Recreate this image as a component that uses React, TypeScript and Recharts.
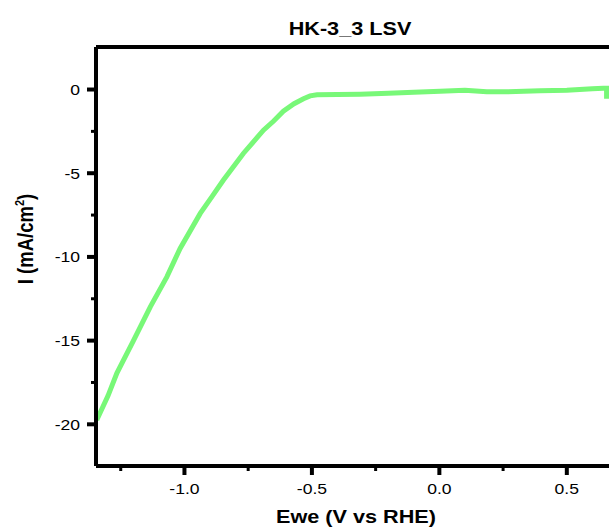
import { LineChart, Line, XAxis, YAxis } from "recharts";

// LSV sweep: potential (V vs RHE) and current density (mA/cm²)
const potential = [
  -1.344, -1.3, -1.265, -1.2, -1.134, -1.069, -1.017, -0.938, -0.89, -0.847,
  -0.769, -0.69, -0.65, -0.612, -0.57, -0.533, -0.507, -0.48, -0.4, -0.311,
  -0.2, -0.1, 0.003, 0.1, 0.186, 0.25, 0.3, 0.395, 0.5, 0.6, 0.643, 0.656, 0.656,
];
const current = [
  -19.74, -18.3, -16.94, -15.0, -12.98, -11.19, -9.49, -7.4, -6.35, -5.41,
  -3.82, -2.43, -1.88, -1.3, -0.85, -0.55, -0.38, -0.31, -0.3, -0.28,
  -0.22, -0.16, -0.1, -0.05, -0.14, -0.14, -0.12, -0.08, -0.04, 0.04, 0.08, 0.08, -0.55,
];

const xMajor = [-1.0, -0.5, 0.0, 0.5];
const xMinor = [-1.25, -0.75, -0.25, 0.25];
const yMajor = [-20, -15, -10, -5, 0];
const yMinor = [-17.5, -12.5, -7.5, -2.5];

const xDomain = [-1.347, 0.68];
const yDomain = [-22.49, 2.54];

const data = potential.map((v, i) => ({ v, i: current[i] }));

const FONT = "'Liberation Sans', Arial, sans-serif";
const STRETCH = 1.17;

const XTick = (props: any) => {
  const { x, y, payload } = props;
  const axisY = y - 8;
  const major = xMajor.includes(payload.value);
  return (
    <g>
      <line
        x1={x}
        x2={x}
        y1={axisY}
        y2={axisY + (major ? 9 : 5)}
        stroke="#000"
        strokeWidth={major ? 4 : 3}
      />
      {major && (
        <text
          transform={`translate(${x},${axisY + 28}) scale(${STRETCH},1)`}
          textAnchor="middle"
          fontSize={15}
          fontFamily={FONT}
          fill="#000"
          stroke="none"
        >
          {payload.value.toFixed(1)}
        </text>
      )}
    </g>
  );
};

const YTick = (props: any) => {
  const { x, y, payload } = props;
  const axisX = x + 8;
  const major = yMajor.includes(payload.value);
  return (
    <g>
      <line
        x1={axisX}
        x2={axisX - (major ? 9 : 5)}
        y1={y}
        y2={y}
        stroke="#000"
        strokeWidth={major ? 4 : 3}
      />
      {major && (
        <text
          transform={`translate(${axisX - 16},${y + 5.4}) scale(${STRETCH},1)`}
          textAnchor="end"
          fontSize={15}
          fontFamily={FONT}
          fill="#000"
          stroke="none"
        >
          {payload.value}
        </text>
      )}
    </g>
  );
};

const label = (left: number, top: number, extra: string = "") => ({
  position: "absolute" as const,
  left,
  top,
  transform: `translate(-50%,-50%) ${extra}`,
  fontFamily: FONT,
  fontWeight: "bold" as const,
  fontSize: 18.5,
  lineHeight: 1,
  whiteSpace: "nowrap" as const,
  color: "#000",
});

export default function App() {
  return (
    <div
      style={{
        position: "absolute",
        left: 0,
        top: 0,
        width: 609,
        height: 532,
        overflow: "hidden",
        background: "#fff",
      }}
    >
      <LineChart
        width={640}
        height={532}
        data={data}
        margin={{ top: 46, right: 27.3, left: 0, bottom: 0 }}
      >
        <XAxis
          dataKey="v"
          type="number"
          domain={xDomain}
          ticks={[...xMajor, ...xMinor].sort((a, b) => a - b)}
          interval={0}
          height={66}
          tickSize={6}
          tickMargin={2}
          tickLine={false}
          tick={<XTick />}
          stroke="#000"
          strokeWidth={4}
          axisLine={{ stroke: "#000", strokeWidth: 4 }}
        />
        <XAxis
          xAxisId="top"
          orientation="top"
          dataKey="v"
          type="number"
          domain={xDomain}
          height={1}
          tick={false}
          tickLine={false}
          stroke="#000"
          strokeWidth={4}
          axisLine={{ stroke: "#000", strokeWidth: 4 }}
        />
        <YAxis
          dataKey="i"
          type="number"
          domain={yDomain}
          ticks={[...yMajor, ...yMinor].sort((a, b) => a - b)}
          interval={0}
          width={96}
          tickSize={6}
          tickMargin={2}
          tickLine={false}
          tick={<YTick />}
          stroke="#000"
          strokeWidth={4}
          axisLine={{ stroke: "#000", strokeWidth: 4 }}
        />
        <Line
          dataKey="i"
          type="linear"
          stroke="#78f878"
          strokeWidth={5}
          dot={false}
          isAnimationActive={false}
        />
      </LineChart>
      <div style={label(350, 29, `scaleX(${STRETCH})`)}>HK-3_3 LSV</div>
      <div style={label(356, 517, `scaleX(${STRETCH})`)}>Ewe (V vs RHE)</div>
      <div style={label(25.7, 239, `rotate(-90deg) scaleY(${STRETCH})`)}>
        I (mA/cm<sup style={{ fontSize: 11, verticalAlign: "super", lineHeight: 0 }}>2</sup>)
      </div>
    </div>
  );
}
